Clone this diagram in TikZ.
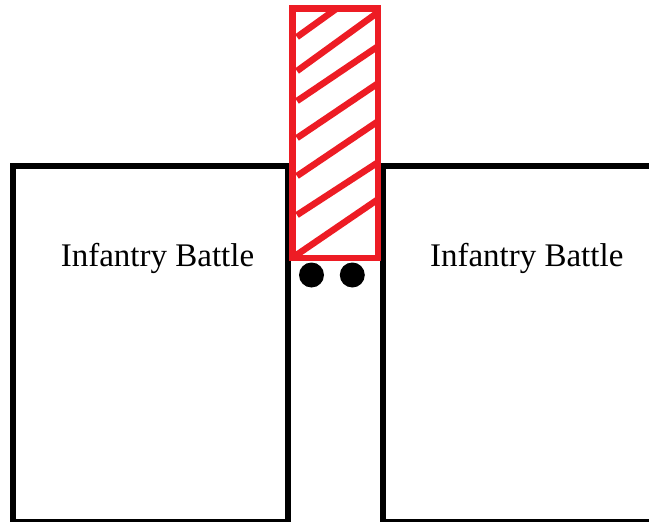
\documentclass[tikz,border=0pt]{standalone}
\usepackage{fontspec}
\setmainfont{Liberation Serif}
\definecolor{paintred}{RGB}{237,28,36}
\tikzset{
  fieldbox/.style={draw=black, line width=6pt},
  unitbox/.style={draw=paintred, line width=6.5pt},
  hatch/.style={draw=paintred, line width=6.5pt},
  label/.style={anchor=base, inner sep=0pt, font=\fontsize{33}{36}\selectfont},
  dotnode/.style={circle, fill=black, minimum size=25pt, inner sep=0pt}
}
\begin{document}
\begin{tikzpicture}[x=1pt,y=-1pt]
\useasboundingbox (0,0) rectangle (649,522);
\clip (0,0) rectangle (649,522);
\fill[white] (0,0) rectangle (649,522);
% left and right fields
\draw[fieldbox] (13,166) rectangle (288,522);
\draw[fieldbox] (382.5,166) rectangle (660,522);
% hatching
\coordinate (h1a) at (297,37);  \coordinate (h1b) at (336,9);
\coordinate (h2a) at (297,71);  \coordinate (h2b) at (377,13);
\coordinate (h3a) at (297,101); \coordinate (h3b) at (377,47);
\coordinate (h4a) at (297,138); \coordinate (h4b) at (377,84);
\coordinate (h5a) at (297,176); \coordinate (h5b) at (377,122);
\coordinate (h6a) at (297,215); \coordinate (h6b) at (377,163);
\coordinate (h7a) at (295,256); \coordinate (h7b) at (377,200);
\foreach \i in {1,...,7} { \draw[hatch] (h\i a) -- (h\i b); }
% red unit
\draw[unitbox] (292.7,8.3) rectangle (378,258);
% dots
\node[dotnode] (d1) at (311.5,275) {};
\node[dotnode] (d2) at (352.3,275) {};
% labels
\node[label] (lt) at (157.5,266.5) {Infantry Battle};
\node[label] (rt) at (526.7,266.5) {Infantry Battle};
\end{tikzpicture}
\end{document}
